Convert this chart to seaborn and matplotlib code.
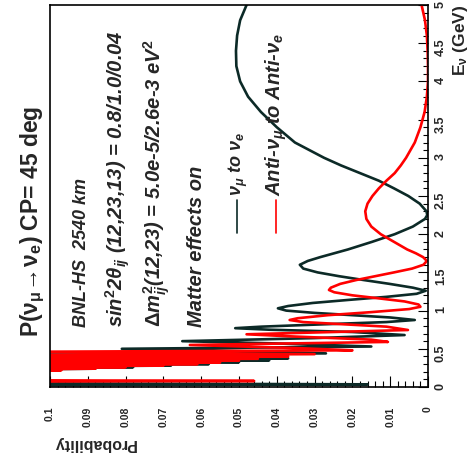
import matplotlib
matplotlib.use("Agg")
import matplotlib.pyplot as plt
import seaborn as sns
from matplotlib.ticker import MultipleLocator

sns.set_style("ticks")
plt.rcParams["font.family"] = ["Liberation Sans", "DejaVu Sans"]
plt.rcParams["mathtext.fontset"] = "custom"
plt.rcParams["mathtext.rm"] = "Liberation Sans:bold"
plt.rcParams["mathtext.it"] = "Liberation Sans:italic:bold"
plt.rcParams["mathtext.bf"] = "Liberation Sans:bold"

# nu_mu -> nu_e (energy in GeV, probability)
e_numu = [5.0, 4.8, 4.6, 4.4, 4.2, 4.0, 3.8, 3.6, 3.4, 3.2, 3.0, 2.9, 2.8, 2.7,
          2.6, 2.5, 2.4, 2.3, 2.25, 2.2, 2.1, 2.0, 1.9, 1.8, 1.7, 1.65, 1.6,
          1.55, 1.5, 1.45, 1.4, 1.35, 1.3, 1.26, 1.22, 1.18, 1.14, 1.10, 1.06,
          1.03, 1.00, 0.97, 0.94, 0.91, 0.877, 0.85, 0.82, 0.79, 0.77, 0.75,
          0.72, 0.68, 0.64, 0.60, 0.57, 0.53, 0.50, 0.47, 0.44, 0.42, 0.405,
          0.39, 0.375, 0.36, 0.35, 0.34, 0.325, 0.315, 0.30, 0.29, 0.28, 0.27,
          0.26, 0.25, 0.24, 0.23, 0.15, 0.05, 0.035, 0.02]
p_numu = [0.0480, 0.0497, 0.0505, 0.0508, 0.0507, 0.0497, 0.0476, 0.0442,
          0.0400, 0.0352, 0.0275, 0.0230, 0.0180, 0.0130, 0.0090, 0.0052,
          0.0022, 0.0004, 0.0002, 0.0008, 0.0040, 0.0088, 0.0148, 0.0212,
          0.0285, 0.0318, 0.0339, 0.0330, 0.0292, 0.0235, 0.0170, 0.0102,
          0.0040, 0.0006, 0.0030, 0.0110, 0.0210, 0.0305, 0.0370, 0.0397,
          0.0375, 0.0300, 0.0200, 0.0100, 0.0035, 0.0110, 0.0280, 0.0440,
          0.0510, 0.0420, 0.0200, 0.0062, 0.0300, 0.0650, 0.0400, 0.0150,
          0.0810, 0.0500, 0.0270, 0.1100, 0.0620, 0.1100, 0.0370, 0.1100,
          0.0420, 0.1100, 0.0500, 0.1100, 0.0580, 0.1100, 0.0680, 0.1100,
          0.0780, 0.1100, 0.0880, 0.1100, 0.1200, 0.1200, 0.0160, 0.1200]

# anti-nu_mu -> anti-nu_e
e_anti = [5.0, 4.8, 4.6, 4.4, 4.2, 4.0, 3.8, 3.6, 3.4, 3.2, 3.0, 2.9, 2.8, 2.7,
          2.6, 2.5, 2.4, 2.3, 2.2, 2.1, 2.0, 1.9, 1.8, 1.75, 1.7, 1.65, 1.6,
          1.55, 1.5, 1.45, 1.4, 1.35, 1.3, 1.27, 1.24, 1.2, 1.16, 1.12, 1.08,
          1.05, 1.02, 0.98, 0.94, 0.90, 0.877, 0.85, 0.82, 0.79, 0.746, 0.72,
          0.69, 0.66, 0.62, 0.59, 0.55, 0.51, 0.48, 0.46, 0.43, 0.415, 0.40,
          0.385, 0.37, 0.355, 0.345, 0.333, 0.32, 0.31, 0.30, 0.29, 0.28, 0.27,
          0.26, 0.25, 0.24, 0.23, 0.22, 0.21, 0.15, 0.09, 0.079, 0.07]
p_anti = [0.0017, 0.0008, 0.0003, 0.0001, 0.0000, 0.0000, 0.0003, 0.0009,
          0.0020, 0.0035, 0.0058, 0.0072, 0.0088, 0.0110, 0.0130, 0.0147,
          0.0160, 0.0166, 0.0163, 0.0150, 0.0125, 0.0090, 0.0055, 0.0032,
          0.0013, 0.0003, 0.0012, 0.0042, 0.0090, 0.0140, 0.0190, 0.0232,
          0.0257, 0.0262, 0.0248, 0.0200, 0.0130, 0.0062, 0.0025, 0.0020,
          0.0050, 0.0150, 0.0265, 0.0345, 0.0366, 0.0330, 0.0220, 0.0110,
          0.0053, 0.0250, 0.0480, 0.0350, 0.0150, 0.0106, 0.0630, 0.0350,
          0.0200, 0.1100, 0.0300, 0.1100, 0.0370, 0.1100, 0.0450, 0.1100,
          0.0500, 0.1100, 0.0550, 0.1100, 0.0610, 0.1100, 0.0700, 0.1100,
          0.0800, 0.1100, 0.0880, 0.1100, 0.0970, 0.1100, 0.1200, 0.1200,
          0.0460, 0.1200]

prob_ticks = [0.1, 0.09, 0.08, 0.07, 0.06, 0.05, 0.04, 0.03, 0.02, 0.01, 0.0]
prob_labels = ["0.1", "0.09", "0.08", "0.07", "0.06", "0.05", "0.04", "0.03",
               "0.02", "0.01", "0"]
e_ticks = [0, 0.5, 1, 1.5, 2, 2.5, 3, 3.5, 4, 4.5, 5]
e_labels = ["0", "0.5", "1", "1.5", "2", "2.5", "3", "3.5", "4", "4.5", "5"]

W, H = 471, 458
black = "#0c2a27"
red = "#ff0000"

fig = plt.figure(figsize=(W / 100, H / 100), dpi=100)
ax = fig.add_axes([50 / W, 1 - 387 / H, 378 / W, 382 / H])

sns.lineplot(x=p_numu, y=e_numu, sort=False, estimator=None, color=black,
             lw=1.9, ax=ax)
sns.lineplot(x=p_anti, y=e_anti, sort=False, estimator=None, color=red,
             lw=1.9, ax=ax)

ax.set_xlim(0.1, 0)
ax.set_ylim(0, 5)
ax.set_xlabel("")
ax.set_ylabel("")

ax.set_xticks(prob_ticks)
ax.set_xticklabels(prob_labels, rotation=90, fontsize=7.5, fontweight="bold")
ax.xaxis.set_minor_locator(MultipleLocator(0.002))
ax.yaxis.tick_right()
ax.set_yticks(e_ticks)
ax.set_yticklabels(e_labels, rotation=90, fontsize=9, fontweight="bold")
ax.yaxis.set_minor_locator(MultipleLocator(0.1))
ax.tick_params(which="both", direction="in", top=False, left=False,
               color="black", width=0.8)
ax.tick_params(axis="x", which="major", length=8, pad=14)
ax.tick_params(axis="x", which="minor", length=4)
ax.tick_params(axis="y", which="major", length=7, pad=5)
ax.tick_params(axis="y", which="minor", length=3.5)
for s in ax.spines.values():
    s.set_visible(True)
    s.set_linewidth(1.2)
    s.set_color("black")


def fx(px):
    return px / W


def fy(py):
    return 1 - py / H


rot = dict(rotation=90, rotation_mode="anchor", ha="left", va="center")
ital = dict(fontweight="bold", style="italic")

fig.text(fx(33), fy(337),
         r"P($\mathrm{\nu_{\mu}}\!\rightarrow\!\mathrm{\nu_{e}}$) CP= 45 deg",
         fontsize=16.5, fontweight="bold", **rot)
fig.text(fx(82), fy(327), "BNL-HS  2540 km", fontsize=13, **ital, **rot)
fig.text(fx(118), fy(327),
         r"sin$^{\mathit{2}}$2$\mathit{\theta_{ij}}$ (12,23,13) = 0.8/1.0/0.04",
         fontsize=14.5, **ital, **rot)
fig.text(fx(157), fy(327),
         r"$\Delta\mathit{m_{ij}^{2}}$(12,23) = 5.0e-5/2.6e-3 eV$^{\mathit{2}}$",
         fontsize=14.5, **ital, **rot)
fig.text(fx(197), fy(327), "Matter effects on", fontsize=14.5, **ital, **rot)

# legend
ax.plot([fx(237)] * 2, [fy(200), fy(233)], transform=fig.transFigure,
        color=black, lw=1.2, clip_on=False)
ax.plot([fx(276)] * 2, [fy(200), fy(233)], transform=fig.transFigure,
        color=red, lw=1.2, clip_on=False)
fig.text(fx(238), fy(196), r"$\nu_{\mu}$ to $\nu_{e}$", fontsize=13,
         **ital, **rot)
fig.text(fx(276), fy(196), r"Anti-$\nu_{\mu}$ to Anti-$\nu_{e}$",
         fontsize=14.5, **ital, **rot)

# axis titles
fig.text(fx(460), fy(5), r"E$_{\mathrm{\nu}}$ (GeV)", fontsize=12.5,
         fontweight="bold", rotation=90, rotation_mode="anchor", ha="right",
         va="center")
fig.text(fx(53), fy(444), "Probability", fontsize=11.5, fontweight="bold",
         rotation=180, rotation_mode="anchor", ha="right", va="center")

fig.savefig("out.png", dpi=100)
